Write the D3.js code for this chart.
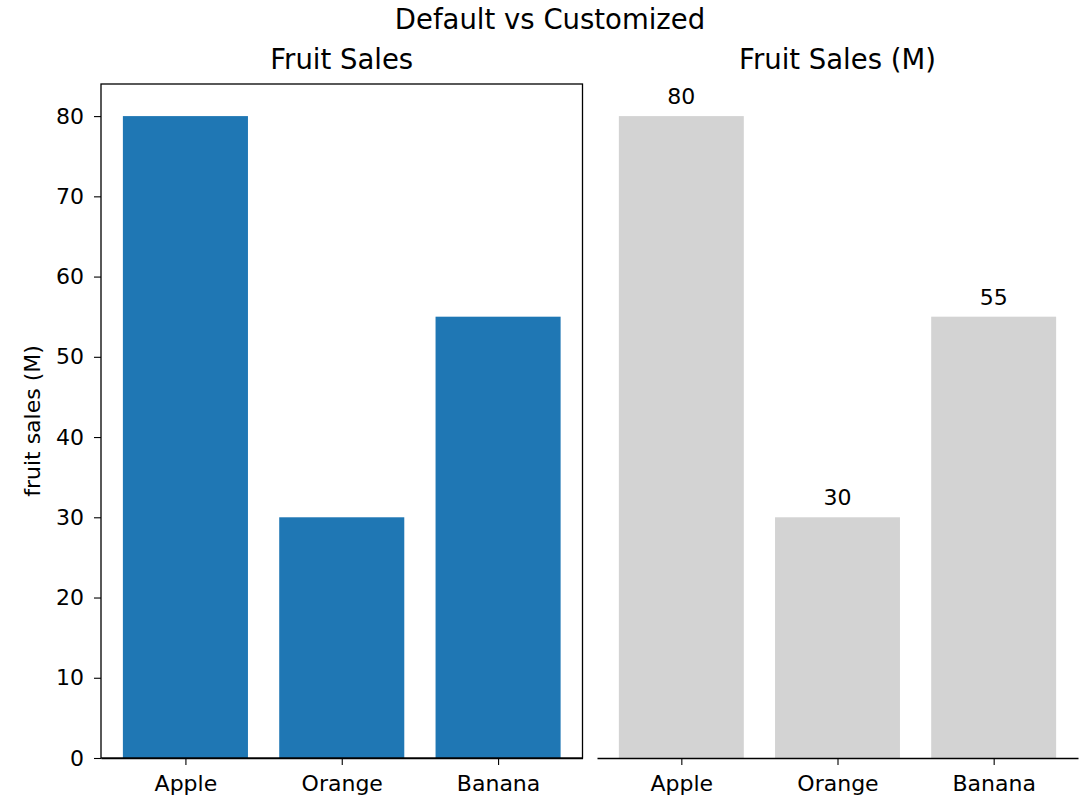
<!DOCTYPE html>
<html>
<head>
<meta charset="utf-8">
<script src="https://cdn.jsdelivr.net/npm/d3@7"></script>
<style>
  body { margin: 0; background: #fff; }
  text { font-family: "DejaVu Sans", sans-serif; fill: #000; }
</style>
</head>
<body>
<script>
// data
var fruits = ["Apple", "Orange", "Banana"];
var sales = [80, 30, 55];
var yTicks = [0, 10, 20, 30, 40, 50, 60, 70, 80];

var W = 1084, H = 797;
var plotTop = 84, plotBottom = 758;
var panels = [
  {left: 101, right: 582.5, title: "Fruit Sales", color: "#1f77b4", custom: false},
  {left: 597, right: 1078, title: "Fruit Sales (M)", color: "#d3d3d3", custom: true}
];

var svg = d3.select("body").append("svg")
  .attr("width", W)
  .attr("height", H);

var yScale = d3.scaleLinear()
  .domain([0, 84])
  .range([plotBottom, plotTop]);

// suptitle
svg.append("text")
  .attr("x", 550)
  .attr("y", 29)
  .attr("text-anchor", "middle")
  .style("font-size", "27.5px")
  .text("Default vs Customized");

panels.forEach(function(p) {
  // linear x like matplotlib: bar width 0.8, 5% margins
  var xScale = d3.scaleLinear()
    .domain([-0.54, fruits.length - 1 + 0.54])
    .range([p.left, p.right]);
  var bw = xScale(0.8) - xScale(0);

  var g = svg.append("g");

  g.selectAll("rect")
    .data(sales)
    .enter().append("rect")
    .attr("x", function(d, i) { return xScale(i) - bw / 2; })
    .attr("y", function(d) { return yScale(d); })
    .attr("width", bw)
    .attr("height", function(d) { return yScale(0) - yScale(d); })
    .attr("fill", p.color);

  // x axis
  var xAxis = g.append("g")
    .attr("transform", "translate(0," + plotBottom + ")")
    .call(d3.axisBottom(xScale)
      .tickValues(d3.range(fruits.length))
      .tickFormat(function(i) { return fruits[i]; })
      .tickSize(7)
      .tickSizeOuter(0)
      .tickPadding(10));
  xAxis.select(".domain").attr("stroke", "#000").attr("stroke-width", 1.3);
  xAxis.selectAll(".tick line").attr("stroke-width", 1.1);
  xAxis.selectAll(".tick text").style("font-size", "22px").attr("fill", "#000");

  g.append("text")
    .attr("x", (p.left + p.right) / 2)
    .attr("y", 69)
    .attr("text-anchor", "middle")
    .style("font-size", "27.5px")
    .text(p.title);

  if (!p.custom) {
    var yAxis = g.append("g")
      .attr("transform", "translate(" + p.left + ",0)")
      .call(d3.axisLeft(yScale)
        .tickValues(yTicks)
        .tickSize(7)
        .tickPadding(10));
    yAxis.select(".domain").remove();
    yAxis.selectAll(".tick line").attr("stroke-width", 1.1);
    yAxis.selectAll(".tick text").style("font-size", "22px").attr("fill", "#000");

    // frame
    g.append("rect")
      .attr("x", p.left)
      .attr("y", plotTop)
      .attr("width", p.right - p.left)
      .attr("height", plotBottom - plotTop)
      .attr("fill", "none")
      .attr("stroke", "#000")
      .attr("stroke-width", 1.3);

    g.append("text")
      .attr("transform", "rotate(-90)")
      .attr("x", -(plotTop + plotBottom) / 2)
      .attr("y", 40)
      .attr("text-anchor", "middle")
      .style("font-size", "22px")
      .text("fruit sales (M)");
  } else {
    g.selectAll(".val")
      .data(sales)
      .enter().append("text")
      .attr("class", "val")
      .attr("x", function(d, i) { return xScale(i); })
      .attr("y", function(d) { return yScale(d) - 12; })
      .attr("text-anchor", "middle")
      .style("font-size", "22px")
      .text(function(d) { return d; });
  }
});
</script>
</body>
</html>
